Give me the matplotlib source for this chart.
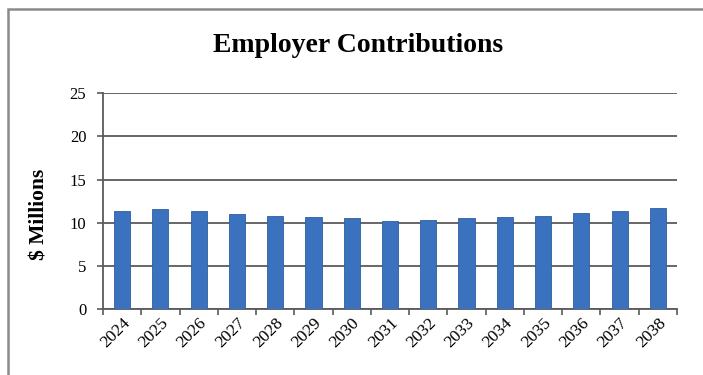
#!/usr/bin/env python3
"""Employer contributions by year, bar chart in $ millions."""
import matplotlib

matplotlib.use("Agg")
import matplotlib.pyplot as plt
import numpy as np
from matplotlib.patches import Rectangle

YEARS = [str(y) for y in range(2024, 2039)]
CONTRIB = [11.4, 11.55, 11.4, 10.97, 10.8, 10.66, 10.5, 10.23, 10.35,
           10.5, 10.66, 10.8, 11.1, 11.4, 11.7]
Y_TICKS = [0, 5, 10, 15, 20, 25]

SERIF = ["Liberation Serif", "DejaVu Serif"]
BAR = "#3b72c0"
EDGE = "#2f5f9e"
GRID = "#5a5a5a"

fig = plt.figure(figsize=(7.03, 3.75), dpi=100)
fig.patch.set_facecolor("white")

# outer chart frame
fig.add_artist(Rectangle((8 / 703, -0.1), 1.2, 1 - 9 / 375 + 0.1,
                         transform=fig.transFigure, fill=False,
                         edgecolor="#8a8a8a", linewidth=1.8))

ax = fig.add_axes([103 / 703, 1 - 309.3 / 375, (677 - 103) / 703, (309.3 - 93) / 375])
x = np.arange(len(YEARS))
ax.bar(x, CONTRIB, width=0.42, color=BAR, edgecolor=EDGE, linewidth=0.6, zorder=3)

ax.set_xlim(-0.5, len(YEARS) - 0.5)
ax.set_ylim(0, 25)
ax.set_yticks(Y_TICKS)
ax.set_yticklabels([str(v) for v in Y_TICKS], family=SERIF, fontsize=12)
ax.yaxis.grid(True, color=GRID, linewidth=1.3, zorder=1)

ax.set_xticks(x)
ax.set_xticklabels(YEARS, rotation=45, ha="right", va="top",
                   rotation_mode="anchor", family=SERIF, fontsize=12.5)
ax.tick_params(axis="x", length=0, pad=4)
ax.set_xticks(np.arange(-0.5, len(YEARS)), minor=True)
ax.tick_params(axis="x", which="minor", length=4, color=GRID, width=1.2, direction="out")
ax.tick_params(axis="y", length=4, color=GRID, width=1.2, pad=8)

for side in ("top", "right"):
    ax.spines[side].set_visible(False)
for side in ("left", "bottom"):
    ax.spines[side].set_color(GRID)
    ax.spines[side].set_linewidth(1.3)

ax.set_ylabel("$ Millions", family=SERIF, fontsize=15.5, fontweight="bold",
              va="center")
ax.yaxis.set_label_coords(-0.11, 0.44)
fig.text(358 / 703, 1 - 46 / 375, "Employer Contributions", family=SERIF,
         fontsize=20, fontweight="bold", ha="center", va="center")

fig.savefig("out.png", dpi=100)
